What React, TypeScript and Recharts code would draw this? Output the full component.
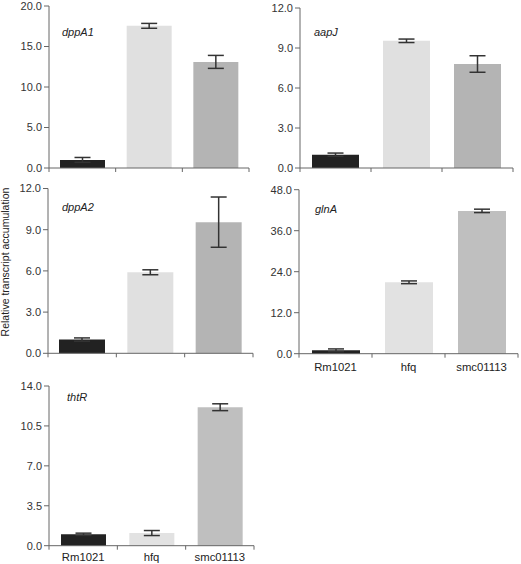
import React from 'react';
import { BarChart, Bar, XAxis, YAxis, ErrorBar, Cell } from 'recharts';

const categories = ['Rm1021', 'hfq', 'smc01113'];

const dppA1Values = [1.0, 17.55, 13.1];
const dppA1Errors = [0.3, 0.3, 0.8];
const dppA1Ticks = [0, 5, 10, 15, 20];

const aapJValues = [1.0, 9.54, 7.8];
const aapJErrors = [0.12, 0.13, 0.62];
const aapJTicks = [0, 3, 6, 9, 12];

const dppA2Values = [1.0, 5.9, 9.55];
const dppA2Errors = [0.12, 0.18, 1.83];
const dppA2Ticks = [0, 3, 6, 9, 12];

const glnAValues = [1.0, 20.9, 41.8];
const glnAErrors = [0.4, 0.4, 0.5];
const glnATicks = [0, 12, 24, 36, 48];

const thtRValues = [1.0, 1.11, 12.14];
const thtRErrors = [0.1, 0.22, 0.3];
const thtRTicks = [0, 3.5, 7, 10.5, 14];

const colorsA = ['#222222', '#e0e0e0', '#b4b4b4'];
const colorsB = ['#222222', '#e2e2e2', '#bfbfbf'];

const axisColor = '#666666';
const font = '"Liberation Sans", Arial, Helvetica, sans-serif';

const makeRows = (values: number[], errors: number[]) =>
  categories.map((c, i) => ({ name: c, value: values[i], err: errors[i] }));

const makeTick = (band: number, showLabel: boolean, labelDy: number) => (props: any) => {
  const { x, y, payload, index } = props;
  return (
    <g>
      {index === 0 && (
        <line x1={x - band / 2} x2={x - band / 2} y1={y} y2={y + 4} stroke={axisColor} />
      )}
      <line x1={x + band / 2} x2={x + band / 2} y1={y} y2={y + 4} stroke={axisColor} />
      {showLabel && (
        <text x={x} y={y + labelDy} textAnchor="middle" fill="#222" fontSize={11.3} fontFamily={font}>
          {payload.value}
        </text>
      )}
    </g>
  );
};

interface PanelProps {
  left: number;
  top: number;
  width: number;
  height: number;
  yAxisWidth: number;
  marginTop: number;
  marginRight: number;
  xAxisHeight: number;
  ticks: number[];
  rows: { name: string; value: number; err: number }[];
  colors: string[];
  barSize: number;
  showLabels: boolean;
  labelDy: number;
  title: string;
  titleX: number;
  titleY: number;
}

function Panel(p: PanelProps) {
  const plotWidth = p.width - p.yAxisWidth - p.marginRight;
  const band = plotWidth / categories.length;
  return (
    <>
      <div style={{ position: 'absolute', left: p.left, top: p.top }}>
        <BarChart
          width={p.width}
          height={p.height}
          data={p.rows}
          margin={{ top: p.marginTop, right: p.marginRight, bottom: 0, left: 0 }}
          barSize={p.barSize}
        >
          <XAxis
            dataKey="name"
            interval={0}
            height={p.xAxisHeight}
            tickLine={false}
            tickSize={0}
            tickMargin={0}
            axisLine={{ stroke: axisColor }}
            tick={makeTick(band, p.showLabels, p.labelDy)}
          />
          <YAxis
            width={p.yAxisWidth}
            domain={[p.ticks[0], p.ticks[p.ticks.length - 1]]}
            ticks={p.ticks}
            interval={0}
            tickFormatter={(v: number) => v.toFixed(1)}
            tickSize={5}
            tickMargin={2}
            axisLine={{ stroke: axisColor }}
            tickLine={{ stroke: axisColor }}
            tick={{ fontSize: 11, fill: '#333', fontFamily: font }}
          />
          <Bar dataKey="value" isAnimationActive={false}>
            {p.rows.map((r, i) => (
              <Cell key={r.name} fill={p.colors[i]} />
            ))}
            <ErrorBar dataKey="err" width={8} stroke="#333" strokeWidth={1.5} />
          </Bar>
        </BarChart>
      </div>
      <div
        style={{
          position: 'absolute',
          left: p.titleX,
          top: p.titleY - 6,
          fontSize: 11,
          lineHeight: '12px',
          fontStyle: 'italic',
          color: '#222',
          fontFamily: font,
          whiteSpace: 'nowrap',
        }}
      >
        {p.title}
      </div>
    </>
  );
}

export default function App() {
  return (
    <div
      style={{
        position: 'absolute',
        left: 0,
        top: 0,
        width: 521,
        height: 564,
        background: '#fff',
        fontFamily: font,
        overflow: 'hidden',
      }}
    >
      <Panel
        left={0} top={0} width={260} height={190}
        yAxisWidth={49} marginTop={6} marginRight={11} xAxisHeight={22}
        ticks={dppA1Ticks} rows={makeRows(dppA1Values, dppA1Errors)} colors={colorsA}
        barSize={45} showLabels={false} labelDy={18} title="dppA1" titleX={62} titleY={32}
      />
      <Panel
        left={260} top={0} width={261} height={190}
        yAxisWidth={40} marginTop={8} marginRight={8} xAxisHeight={22}
        ticks={aapJTicks} rows={makeRows(aapJValues, aapJErrors)} colors={colorsA}
        barSize={47} showLabels={false} labelDy={18} title="aapJ" titleX={314} titleY={32}
      />
      <Panel
        left={0} top={180} width={260} height={200}
        yAxisWidth={48} marginTop={8.5} marginRight={7} xAxisHeight={26.7}
        ticks={dppA2Ticks} rows={makeRows(dppA2Values, dppA2Errors)} colors={colorsA}
        barSize={46} showLabels={false} labelDy={18} title="dppA2" titleX={62} titleY={207}
      />
      <Panel
        left={260} top={180} width={261} height={200}
        yAxisWidth={39} marginTop={9.7} marginRight={3} xAxisHeight={26.3}
        ticks={glnATicks} rows={makeRows(glnAValues, glnAErrors)} colors={colorsB}
        barSize={48} showLabels={true} labelDy={17.5} title="glnA" titleX={315} titleY={209}
      />
      <Panel
        left={0} top={376} width={260} height={200}
        yAxisWidth={49} marginTop={10} marginRight={6} xAxisHeight={30.3}
        ticks={thtRTicks} rows={makeRows(thtRValues, thtRErrors)} colors={colorsB}
        barSize={45} showLabels={true} labelDy={15} title="thtR" titleX={67} titleY={397}
      />
      <div
        style={{
          position: 'absolute',
          left: 5 - 110,
          top: 262 - 6,
          width: 220,
          textAlign: 'center',
          fontSize: 10.5,
          lineHeight: '12px',
          color: '#222',
          fontFamily: font,
          transform: 'rotate(-90deg)',
          transformOrigin: '50% 50%',
          whiteSpace: 'nowrap',
        }}
      >
        Relative transcript accumulation
      </div>
    </div>
  );
}
